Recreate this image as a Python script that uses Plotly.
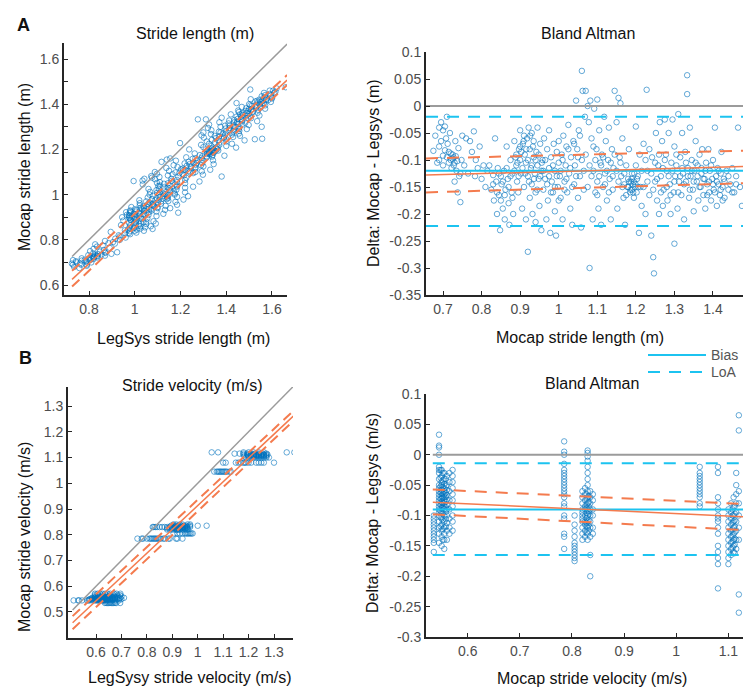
import numpy as np
import plotly.graph_objects as go

W, H = 743, 687

# ---------------- Stride length: Bland-Altman points (Mocap, Mocap - LegSys) ----------------
len_mocap = [
    0.675, 0.68, 0.685, 0.69, 0.69, 0.695, 0.70, 0.70, 0.705, 0.708, 0.71, 0.712, 0.715, 0.718,
    0.72, 0.722, 0.725, 0.727, 0.73, 0.73, 0.732, 0.735, 0.738, 0.74, 0.742, 0.745, 0.748, 0.75,
    0.755, 0.76, 0.765, 0.77, 0.775, 0.78, 0.783, 0.785, 0.79, 0.795, 0.80, 0.805, 0.81, 0.815,
    0.82, 0.825, 0.83, 0.832, 0.835, 0.838, 0.84, 0.842, 0.845, 0.848, 0.85, 0.852,
    0.855, 0.858, 0.86, 0.862, 0.865, 0.868, 0.87, 0.872, 0.875, 0.878, 0.88, 0.882,
    0.885, 0.888, 0.89, 0.892, 0.895, 0.897, 0.9, 0.9, 0.902, 0.905, 0.907, 0.91, 0.91,
    0.912, 0.915, 0.915, 0.918, 0.92, 0.92, 0.922, 0.925, 0.925, 0.928, 0.93, 0.93, 0.932,
    0.935, 0.935, 0.938, 0.94, 0.94, 0.942, 0.945, 0.945, 0.948, 0.95, 0.952, 0.955, 0.955,
    0.958, 0.96, 0.962, 0.965, 0.968, 0.97, 0.972, 0.975, 0.975, 0.978, 0.98, 0.982, 0.985,
    0.987, 0.99, 0.99, 0.993, 0.995, 0.998, 1.0, 1.0, 1.003, 1.005, 1.008, 1.01, 1.012,
    1.015, 1.018, 1.02, 1.022, 1.025, 1.027, 1.03, 1.032, 1.035, 1.038, 1.04, 1.042, 1.045,
    1.048, 1.05, 1.052, 1.055, 1.058, 1.06, 1.06, 1.062, 1.065, 1.068,
    1.07, 1.075, 1.078, 1.08, 1.082, 1.085, 1.088, 1.09, 1.092, 1.095, 1.098, 1.1, 1.1,
    1.103, 1.105, 1.108, 1.11, 1.112, 1.115, 1.118, 1.12, 1.122, 1.125, 1.128, 1.13,
    1.132, 1.135, 1.138, 1.14, 1.142,
    1.145, 1.15, 1.152, 1.155, 1.158, 1.16, 1.162, 1.165, 1.168, 1.17, 1.172, 1.175, 1.178,
    1.18, 1.182, 1.185, 1.187, 1.19, 1.19, 1.192, 1.195, 1.195, 1.197, 1.2, 1.2, 1.202,
    1.205, 1.208, 1.21, 1.212, 1.215,
    1.22, 1.225, 1.228, 1.23, 1.235, 1.24, 1.242, 1.245, 1.247, 1.25, 1.252, 1.255, 1.258,
    1.26, 1.262, 1.265, 1.268, 1.27, 1.272, 1.275, 1.278, 1.28, 1.282, 1.285, 1.288, 1.29,
    1.292, 1.295, 1.298, 1.3, 1.3, 1.302, 1.305, 1.308, 1.31, 1.312,
    1.315, 1.318, 1.32, 1.322, 1.325, 1.328, 1.33, 1.333, 1.333, 1.335, 1.338, 1.34, 1.342,
    1.345, 1.348, 1.35, 1.352, 1.355, 1.358, 1.36, 1.362, 1.365, 1.368, 1.37, 1.372, 1.375,
    1.378, 1.38, 1.382, 1.385, 1.388, 1.39, 1.392, 1.395, 1.398,
    1.4, 1.402, 1.405, 1.408, 1.41, 1.412, 1.415, 1.418, 1.42, 1.422, 1.425, 1.428, 1.43,
    1.435, 1.44, 1.445, 1.45, 1.455, 1.46, 1.465, 1.47, 1.475,
    # denser parts of the cloud
    0.69, 0.695, 0.7, 0.705, 0.71, 0.715, 0.72, 0.725, 0.728, 0.733, 0.737, 0.745,
    0.83, 0.84, 0.845, 0.85, 0.855, 0.86, 0.865, 0.87, 0.875, 0.88,
    0.885, 0.89, 0.893, 0.896, 0.9, 0.903, 0.906, 0.909, 0.913, 0.916, 0.92, 0.923, 0.926,
    0.93, 0.933, 0.936, 0.94, 0.944, 0.948, 0.952, 0.956,
    0.96, 0.965, 0.97, 0.975, 0.98, 0.985, 0.99, 0.995, 1.0, 1.005, 1.01, 1.015, 1.02,
    1.025, 1.03, 1.035, 1.04, 1.045, 1.05, 1.055,
    1.065, 1.07, 1.075, 1.08, 1.085, 1.09, 1.095, 1.1, 1.105, 1.11, 1.115, 1.12, 1.125,
    1.13, 1.135, 1.14, 1.145, 1.15, 1.155, 1.16, 1.165, 1.17, 1.175, 1.18, 1.183, 1.186,
    1.189, 1.193, 1.196, 1.199, 1.203, 1.206,
    1.215, 1.22, 1.225, 1.23, 1.235, 1.24, 1.245, 1.25, 1.255, 1.26, 1.265, 1.27, 1.275,
    1.28, 1.285, 1.29, 1.295, 1.3, 1.305, 1.31,
    1.315, 1.32, 1.325, 1.33, 1.335, 1.34, 1.345, 1.35, 1.355, 1.36, 1.365, 1.37, 1.375,
    1.38, 1.385, 1.39, 1.395, 1.4, 1.405, 1.41, 1.415, 1.42, 1.425, 1.43, 1.44, 1.45, 1.46,
]
len_delta = [
    -0.083, -0.055, -0.105, -0.04, -0.075, -0.03, -0.045, -0.092, -0.038, -0.06, -0.02, -0.07, -0.085, -0.05,
    -0.1, -0.115, -0.09, -0.095, -0.105, -0.14, -0.065, -0.12, -0.16, -0.078, -0.13, -0.178, -0.1, -0.055,
    -0.11, -0.06, -0.125, -0.065, -0.085, -0.047, -0.13, -0.1, -0.115, -0.075, -0.135, -0.11, -0.15, -0.12,
    -0.11, -0.155, -0.128, -0.175, -0.06, -0.14, -0.2, -0.115, -0.165, -0.23, -0.13, -0.145,
    -0.19, -0.12, -0.21, -0.155, -0.075, -0.135, -0.18, -0.22, -0.1, -0.16, -0.125, -0.2,
    -0.065, -0.095, -0.11, -0.14, -0.16, -0.08, -0.045, -0.1, -0.125, -0.19, -0.07, -0.055, -0.15,
    -0.09, -0.105, -0.21, -0.06, -0.13, -0.27, -0.04, -0.08, -0.17, -0.115, -0.05, -0.145, -0.2,
    -0.095, -0.065, -0.125, -0.16, -0.215, -0.085, -0.11, -0.04, -0.135, -0.185, -0.07, -0.12, -0.23,
    -0.1, -0.155, -0.06, -0.135, -0.21, -0.08, -0.175, -0.115, -0.045, -0.235, -0.095, -0.14, -0.16,
    -0.07, -0.12, -0.195, -0.24, -0.085, -0.15, -0.105, -0.065, -0.13, -0.17, -0.09, -0.21, -0.055,
    -0.14, -0.11, -0.075, -0.16, -0.035, -0.125, -0.19, -0.095, -0.22, -0.065, -0.145, -0.11, 0.01,
    -0.08, -0.17, -0.045, -0.13, -0.225, 0.065, -0.1, 0.028, -0.155, -0.02,
    0.028, 0.0, -0.03, -0.3, 0.01, -0.06, -0.21, -0.12, -0.005, -0.16, -0.08, 0.012, -0.14,
    -0.19, -0.045, -0.105, -0.22, -0.09, -0.15, -0.02, -0.125, -0.065, -0.175, -0.1, -0.04,
    -0.135, -0.21, -0.08, -0.155, -0.115,
    0.028, -0.03, -0.19, 0.015, -0.095, 0.005, -0.13, -0.06, -0.17, -0.145, -0.22, -0.11, -0.15,
    -0.135, -0.08, -0.16, -0.14, -0.155, -0.125, -0.145, -0.17, -0.14, -0.15, -0.11, -0.038, -0.16,
    -0.13, -0.235, -0.09, -0.15, -0.185,
    -0.07, -0.2, 0.03, -0.12, -0.165, -0.24, -0.095, -0.28, -0.31, -0.14, -0.05, -0.175, -0.11,
    -0.2, -0.03, -0.13, -0.065, -0.185, -0.155, -0.025, -0.09, -0.12, -0.175, -0.05, -0.145, -0.2,
    -0.105, -0.025, -0.16, -0.255, -0.075, -0.13, -0.11, -0.19, -0.015, -0.14,
    -0.095, -0.165, -0.05, -0.125, -0.21, -0.085, -0.14, 0.057, 0.022, -0.115, -0.17, -0.04, -0.13,
    -0.1, -0.155, -0.195, -0.12, -0.065, -0.14, -0.11, -0.175, -0.09, -0.15, -0.125, -0.08, -0.165,
    -0.135, -0.19, -0.105, -0.145, -0.08, -0.16, -0.12, -0.175, -0.135,
    -0.1, -0.155, -0.04, -0.13, -0.185, -0.115, -0.145, -0.165, -0.125, -0.085, -0.15, -0.135, -0.17,
    -0.12, -0.155, -0.145, -0.115, -0.16, -0.13, -0.04, -0.15, -0.185,
    # denser parts of the cloud
    -0.1, -0.065, -0.11, -0.082, -0.095, -0.105, -0.088, -0.098, -0.11, -0.093, -0.102, -0.125,
    -0.145, -0.16, -0.125, -0.175, -0.14, -0.165, -0.115, -0.15, -0.13, -0.17,
    -0.12, -0.09, -0.105, -0.13, -0.075, -0.085, -0.115, -0.065, -0.125, -0.08, -0.1, -0.14, -0.055,
    -0.11, -0.075, -0.135, -0.1, -0.155, -0.09, -0.13, -0.105,
    -0.12, -0.1, -0.145, -0.13, -0.16, -0.11, -0.15, -0.13, -0.175, -0.12, -0.1, -0.155, -0.135,
    -0.08, -0.115, -0.15, -0.07, -0.13, -0.095, -0.055,
    -0.12, -0.09, -0.15, -0.11, -0.13, -0.075, -0.1, -0.165, -0.13, -0.11, -0.095, -0.145, -0.12,
    -0.16, -0.105, -0.13, -0.09, -0.12, -0.14, -0.105, -0.15, -0.125, -0.165, -0.15, -0.14, -0.155,
    -0.135, -0.16, -0.125, -0.145, -0.135, -0.15,
    -0.12, -0.15, -0.1, -0.14, -0.08, -0.125, -0.155, -0.105, -0.135, -0.09, -0.16, -0.115, -0.1,
    -0.15, -0.13, -0.165, -0.12, -0.14, -0.09, -0.16,
    -0.13, -0.115, -0.145, -0.105, -0.13, -0.155, -0.12, -0.14, -0.105, -0.13, -0.15, -0.115, -0.135,
    -0.12, -0.165, -0.14, -0.11, -0.145, -0.16, -0.14, -0.12, -0.155, -0.175, -0.14, -0.13, -0.16, -0.145,
]

# lines
len_line_x = [0.726, 1.666]
len_fit = [0.625, 1.507]
len_fit_hi = [0.663, 1.529]
len_fit_lo = [0.593, 1.485]
len_ba_x = [0.656, 1.478]
len_ba_fit = [-0.128, -0.112]
len_ba_hi = [-0.097, -0.083]
len_ba_lo = [-0.16, -0.143]
len_bias = -0.12
len_loa = [-0.02, -0.222]

# ---------------- Stride velocity: Mocap is quantised, deltas per column ----------------
vel_cols = [0.535, 0.545, 0.55, 0.555, 0.56, 0.565, 0.571,
            0.785, 0.805, 0.82, 0.825, 0.83, 0.835, 0.84,
            1.045, 1.08, 1.1, 1.105, 1.11, 1.115, 1.12,
            0.548, 0.552, 0.558, 0.828, 0.832, 1.108, 1.112]
vel_deltas = [
    [-0.1, -0.105, -0.11, -0.115, -0.12, -0.125, -0.13, -0.135, -0.14, -0.145, -0.16],
    [0.033, 0.015, 0.012, 0.0, -0.02, -0.025, -0.03, -0.04, -0.05, -0.055, -0.06, -0.065, -0.07,
     -0.075, -0.08, -0.085, -0.09, -0.095, -0.1, -0.11, -0.12, -0.13, -0.145],
    [-0.025, -0.035, -0.045, -0.05, -0.058, -0.062, -0.068, -0.072, -0.078, -0.082, -0.088,
     -0.095, -0.105, -0.115, -0.125, -0.135, -0.15],
    [-0.03, -0.04, -0.048, -0.055, -0.06, -0.065, -0.07, -0.075, -0.08, -0.085, -0.09, -0.1,
     -0.11, -0.12, -0.13, -0.14, -0.155],
    [-0.035, -0.05, -0.058, -0.066, -0.074, -0.082, -0.09, -0.1, -0.112, -0.125, -0.14],
    [-0.03, -0.045, -0.06, -0.075, -0.09, -0.105, -0.12, -0.13],
    [-0.025, -0.035, -0.045, -0.055, -0.065, -0.075, -0.085, -0.1, -0.11, -0.125],
    [0.022, 0.005, 0.0, -0.015, -0.025, -0.03, -0.035, -0.04, -0.045, -0.05, -0.055, -0.06,
     -0.065, -0.07, -0.08, -0.085, -0.1, -0.105, -0.13, -0.135, -0.155],
    [-0.1, -0.115, -0.125, -0.135, -0.145, -0.15, -0.155, -0.16, -0.165, -0.17, -0.175],
    [-0.06, -0.07, -0.08, -0.09, -0.095, -0.1, -0.105, -0.11, -0.12, -0.13, -0.14],
    [-0.055, -0.065, -0.075, -0.085, -0.09, -0.1, -0.11, -0.115, -0.125, -0.135],
    [0.007, 0.003, -0.003, -0.01, -0.02, -0.03, -0.04, -0.05, -0.06, -0.07, -0.08, -0.09,
     -0.1, -0.11, -0.12, -0.13, -0.14],
    [-0.06, -0.07, -0.08, -0.09, -0.1, -0.11, -0.12, -0.135, -0.165, -0.2],
    [-0.065, -0.075, -0.09, -0.1, -0.12, -0.13],
    [-0.02, -0.03, -0.035, -0.04, -0.045, -0.05, -0.055, -0.06, -0.065, -0.07, -0.08, -0.085],
    [-0.02, -0.03, -0.07, -0.08, -0.09, -0.1, -0.105, -0.11, -0.12, -0.13, -0.15, -0.16,
     -0.17, -0.18, -0.22],
    [-0.09, -0.1, -0.11, -0.12, -0.13, -0.14, -0.15, -0.16, -0.17, -0.18],
    [-0.08, -0.095, -0.105, -0.115, -0.125, -0.135, -0.145, -0.155, -0.165],
    [-0.07, -0.085, -0.1, -0.11, -0.12, -0.13, -0.14, -0.15, -0.16],
    [-0.03, -0.05, -0.065, -0.08, -0.095, -0.11, -0.125, -0.14, -0.155],
    [0.065, 0.04, -0.06, -0.08, -0.1, -0.12, -0.14, -0.23, -0.26],
    [-0.025, -0.038, -0.052, -0.063, -0.073, -0.083, -0.093, -0.103, -0.118],
    [-0.03, -0.042, -0.053, -0.064, -0.071, -0.079, -0.087, -0.097, -0.108, -0.122, -0.14],
    [-0.04, -0.052, -0.063, -0.069, -0.077, -0.086, -0.094, -0.106, -0.118],
    [-0.065, -0.072, -0.082, -0.088, -0.096, -0.104, -0.112, -0.118, -0.128],
    [-0.068, -0.078, -0.085, -0.093, -0.098, -0.108, -0.116, -0.125],
    [-0.09, -0.1, -0.112, -0.123, -0.133, -0.143, -0.153],
    [-0.085, -0.097, -0.108, -0.118, -0.128, -0.138, -0.148, -0.162],
]

# lines
vel_line_x = [0.508, 1.376]
vel_fit = [0.458, 1.261]
vel_fit_hi = [0.484, 1.281]
vel_fit_lo = [0.433, 1.242]
vel_ba_x = [0.533, 1.13]
vel_ba_fit = [-0.078, -0.102]
vel_ba_hi = [-0.057, -0.081]
vel_ba_lo = [-0.098, -0.124]
vel_bias = -0.09
vel_loa = [-0.014, -0.165]

# tick labels
ticks_a_x = [0.8, 1, 1.2, 1.4, 1.6]
ticks_a_y = [0.6, 0.8, 1, 1.2, 1.4, 1.6]
ticks_ba_len_x = [0.7, 0.8, 0.9, 1, 1.1, 1.2, 1.3, 1.4]
ticks_ba_len_y = [-0.35, -0.3, -0.25, -0.2, -0.15, -0.1, -0.05, 0, 0.05, 0.1]
ticks_b_x = [0.6, 0.7, 0.8, 0.9, 1, 1.1, 1.2, 1.3]
ticks_b_y = [0.5, 0.6, 0.7, 0.8, 0.9, 1, 1.1, 1.2, 1.3]
ticks_ba_vel_x = [0.6, 0.7, 0.8, 0.9, 1, 1.1]
ticks_ba_vel_y = [-0.3, -0.25, -0.2, -0.15, -0.1, -0.05, 0, 0.05, 0.1]

BLUE = "rgba(0,114,189,0.6)"
ORANGE = "#F47B4E"
CYAN = "#1CC3F0"
GRAY = "#9B9B9B"
FONT = "Liberation Sans, Arial, sans-serif"

len_mocap = np.array(len_mocap)
len_delta = np.array(len_delta)
len_legsys = len_mocap - len_delta

vel_mocap = np.concatenate([[c] * len(d) for c, d in zip(vel_cols, vel_deltas)])
vel_delta = np.concatenate(vel_deltas)
vel_legsys = vel_mocap - vel_delta

fig = go.Figure()


def pts(x, y, ax):
    fig.add_trace(go.Scatter(
        x=x, y=y, mode="markers", xaxis="x" + ax, yaxis="y" + ax,
        marker=dict(symbol="circle-open", size=5.5, color=BLUE, line=dict(width=1)),
        showlegend=False, hoverinfo="skip"))


def line(x, y, ax, color, width=1.5, dash="solid"):
    fig.add_trace(go.Scatter(
        x=x, y=y, mode="lines", xaxis="x" + ax, yaxis="y" + ax,
        line=dict(color=color, width=width, dash=dash),
        showlegend=False, hoverinfo="skip"))


# A left: LegSys vs Mocap stride length
pts(len_legsys, len_mocap, "")
line(len_line_x, len_line_x, "", GRAY, 1.5)
line(len_line_x, len_fit_hi, "", ORANGE, 2, "10px,6px")
line(len_line_x, len_fit_lo, "", ORANGE, 2, "10px,6px")
line(len_line_x, len_fit, "", ORANGE, 1.5)

# A right: Bland Altman stride length
pts(len_mocap, len_delta, "2")
line(len_ba_x, [0, 0], "2", GRAY, 2)
line(len_ba_x, [len_loa[0]] * 2, "2", CYAN, 2, "12px,9px")
line(len_ba_x, [len_loa[1]] * 2, "2", CYAN, 2, "12px,9px")
line(len_ba_x, [len_bias] * 2, "2", CYAN, 2)
line(len_ba_x, len_ba_hi, "2", ORANGE, 2, "12px,9px")
line(len_ba_x, len_ba_lo, "2", ORANGE, 2, "12px,9px")
line(len_ba_x, len_ba_fit, "2", ORANGE, 1.5)

# B left: LegSys vs Mocap stride velocity
pts(vel_legsys, vel_mocap, "3")
line(vel_line_x, vel_line_x, "3", GRAY, 1.5)
line(vel_line_x, vel_fit_hi, "3", ORANGE, 2, "10px,6px")
line(vel_line_x, vel_fit_lo, "3", ORANGE, 2, "10px,6px")
line(vel_line_x, vel_fit, "3", ORANGE, 1.5)

# B right: Bland Altman stride velocity
pts(vel_mocap, vel_delta, "4")
line(vel_ba_x, [0, 0], "4", GRAY, 2)
line(vel_ba_x, [vel_loa[0]] * 2, "4", CYAN, 2, "12px,9px")
line(vel_ba_x, [vel_loa[1]] * 2, "4", CYAN, 2, "12px,9px")
line(vel_ba_x, [vel_bias] * 2, "4", CYAN, 2)
line(vel_ba_x, vel_ba_hi, "4", ORANGE, 2, "12px,9px")
line(vel_ba_x, vel_ba_lo, "4", ORANGE, 2, "12px,9px")
line(vel_ba_x, vel_ba_fit, "4", ORANGE, 1.5)


def axis(dom, rng, vals, anchor, minor=None):
    d = dict(domain=dom, range=rng, anchor=anchor, tickvals=vals,
             ticktext=[f"{v:g}" for v in vals],
             showline=True, linecolor="#262626", linewidth=2,
             ticks="inside", ticklen=4, tickwidth=1, tickcolor="#262626",
             showgrid=False, zeroline=False, automargin=False,
             tickfont=dict(family=FONT, size=14, color="#4d4d4d"))
    if minor:
        d["minor"] = dict(ticks="inside", ticklen=4, tickwidth=1, tickcolor="#262626",
                          dtick=minor, tick0=0, showgrid=False)
    return d


def xd(a, b):
    return [a / W, b / W]


def yd(top, bottom):
    return [1 - bottom / H, 1 - top / H]


fig.update_layout(
    width=W, height=H, margin=dict(l=0, r=0, t=0, b=0, pad=0),
    paper_bgcolor="white", plot_bgcolor="white",
    font=dict(family=FONT),
    xaxis=axis(xd(64, 287), [0.6907, 1.6656], ticks_a_x, "y"),
    yaxis=axis(yd(43, 295), [0.5558, 1.6708], ticks_a_y, "x", 0.1),
    xaxis2=axis(xd(426, 743), [0.6559, 1.4778], ticks_ba_len_x, "y2"),
    yaxis2=axis(yd(52, 295), [-0.35, 0.1], ticks_ba_len_y, "x2"),
    xaxis3=axis(xd(68, 293), [0.4899, 1.3747], ticks_b_x, "y3"),
    yaxis3=axis(yd(387, 638), [0.399, 1.3738], ticks_b_y, "x3"),
    xaxis4=axis(xd(426, 743), [0.52, 1.128], ticks_ba_vel_x, "y4"),
    yaxis4=axis(yd(394, 637), [-0.3, 0.1], ticks_ba_vel_y, "x4"),
)


def label(text, x, y, size=16, angle=0, color="#111111", bold=False, anchor="center"):
    fig.add_annotation(
        text=f"<b>{text}</b>" if bold else text, xref="paper", yref="paper",
        x=x / W, y=1 - y / H, xanchor=anchor, yanchor="middle",
        textangle=angle, showarrow=False,
        font=dict(family=FONT, size=size, color=color))


label("A", 23, 25, 18, bold=True)
label("B", 25, 358, 18, bold=True)
label("Stride length (m)", 195, 33)
label("Bland Altman", 588, 33)
label("LegSys stride length (m)", 183, 338)
label("Mocap stride length (m)", 580, 337)
label("Mocap stride length (m)", 25, 167, angle=-90)
label("Delta: Mocap - Legsys (m)", 373, 173, angle=-90)
label("Stride velocity (m/s)", 192, 385)
label("Bland Altman", 592, 383)
label("LegSysy stride velocity (m/s)", 190, 677)
label("Mocap stride velocity (m/s)", 592, 678)
label("Mocap stride velocity (m/s)", 24, 537, angle=-90)
label("Delta: Mocap - Legsys (m/s)", 372, 513, angle=-90)

# legend for the Bland-Altman lines
fig.add_shape(type="line", xref="paper", yref="paper", x0=648 / W, x1=706 / W,
              y0=1 - 355 / H, y1=1 - 355 / H, line=dict(color=CYAN, width=2))
fig.add_shape(type="line", xref="paper", yref="paper", x0=648 / W, x1=706 / W,
              y0=1 - 372 / H, y1=1 - 372 / H, line=dict(color=CYAN, width=2, dash="12px,9px"))
label("Bias", 709, 355, 14, color="#555555", anchor="left")
label("LoA", 709, 372, 14, color="#555555", anchor="left")

fig.write_html("out.html", config={"displayModeBar": False},
               post_script="document.body.style.margin='0';")
